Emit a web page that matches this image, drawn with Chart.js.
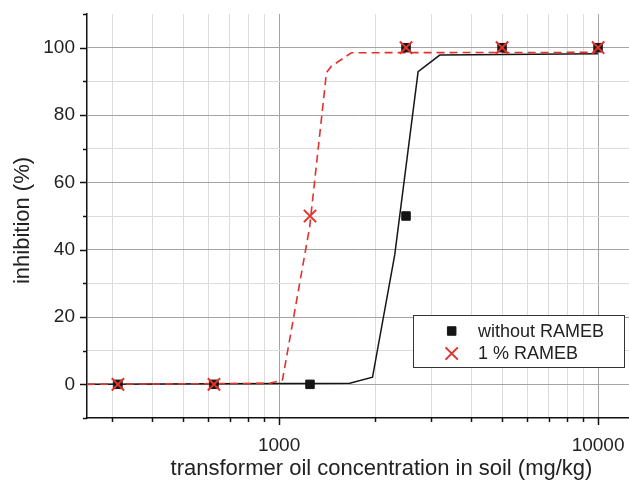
<!DOCTYPE html>
<html>
<head>
<meta charset="utf-8">
<script src="https://cdn.jsdelivr.net/npm/chart.js@4.4.1/dist/chart.umd.min.js"></script>
<style>
  body { margin: 0; background: #fff; }
  #wrap { width: 629px; height: 480px; }
</style>
</head>
<body>
<div id="wrap"><canvas id="inhibition"></canvas></div>
<script>
// measured inhibition (%) per concentration (mg/kg)
var concWithout = [312.5, 625, 1250, 2500, 2500, 5000, 10000];
var withoutRameb = [0, 0, 0, 50, 100, 100, 100];
var concWith = [312.5, 625, 1250, 2500, 5000, 10000];
var withRameb = [0, 0, 50, 100, 100, 100];

// fitted dose-response curves
var fitWithoutX = [250, 1666, 1963, 2305, 2728, 3190, 10000];
var fitWithoutY = [0, 0.3, 2.1, 38.5, 92.9, 97.8, 98.2];
var fitWithX = [250, 936, 1025, 1247, 1408, 1459, 1686, 10000];
var fitWithY = [0, 0.3, 1.3, 46.7, 92.6, 94.5, 98.5, 98.6];

// axis ticks
var xTicks = [300, 400, 500, 600, 700, 800, 900, 1000, 2000, 3000, 4000, 5000, 6000, 7000, 8000, 9000, 10000];
var xMajor = [1000, 10000];
var yMajor = [0, 20, 40, 60, 80, 100];

var labels = ['without RAMEB', '1 % RAMEB'];
var xTitle = 'transformer oil concentration in soil (mg/kg)';
var yTitle = 'inhibition (%)';

var FONT = "'Liberation Sans', Arial, sans-serif";
var RED = '#e2322a';

function pairs(xs, ys) {
	return xs.map(function (x, i) { return {x: x, y: ys[i]}; });
}

// tick marks, axis titles and the boxed legend
var decorations = {
	id: 'decorations',
	afterDraw: function (chart) {
		var ctx = chart.ctx;
		var area = chart.chartArea;
		var xs = chart.scales.x;
		var ys = chart.scales.y;
		ctx.save();
		ctx.strokeStyle = '#111';
		ctx.lineWidth = 1.5;
		ys.ticks.forEach(function (t) {
			var y = Math.round(ys.getPixelForValue(t.value)) + 0.5;
			var len = yMajor.indexOf(t.value) >= 0 ? 7 : 4;
			ctx.beginPath();
			ctx.moveTo(area.left - len, y);
			ctx.lineTo(area.left, y);
			ctx.stroke();
		});
		xs.ticks.forEach(function (t) {
			var x = Math.round(xs.getPixelForValue(t.value)) + 0.5;
			var len = xMajor.indexOf(t.value) >= 0 ? 7 : 4;
			ctx.beginPath();
			ctx.moveTo(x, area.bottom);
			ctx.lineTo(x, area.bottom + len);
			ctx.stroke();
		});

		// axis titles
		ctx.fillStyle = '#222';
		ctx.font = '22px ' + FONT;
		ctx.textAlign = 'center';
		ctx.textBaseline = 'alphabetic';
		ctx.fillText(xTitle, 381.5, 475);
		ctx.save();
		ctx.translate(29, 220.5);
		ctx.rotate(-Math.PI / 2);
		ctx.fillText(yTitle, 0, 0);
		ctx.restore();

		// legend
		var bx = 413.5, by = 315.5, bw = 211, bh = 52;
		ctx.fillStyle = '#fff';
		ctx.fillRect(bx, by, bw, bh);
		ctx.strokeStyle = '#333';
		ctx.lineWidth = 1;
		ctx.strokeRect(bx, by, bw, bh);
		var rows = [331, 353.5];
		chart.data.datasets.slice(0, 2).forEach(function (ds, i) {
			ctx.fillStyle = ds.backgroundColor;
			ctx.strokeStyle = ds.borderColor;
			ctx.lineWidth = ds.borderWidth;
			Chart.helpers.drawPoint(ctx, {
				pointStyle: ds.pointStyle,
				radius: ds.pointRadius,
				borderWidth: ds.borderWidth,
				rotation: 0,
			}, 451.7, rows[i]);
			ctx.fillStyle = '#222';
			ctx.font = '18px ' + FONT;
			ctx.textAlign = 'left';
			ctx.textBaseline = 'middle';
			ctx.fillText(ds.label, 478, rows[i] + 1);
		});
		ctx.restore();
	},
};

new Chart(document.getElementById('inhibition'), {
	type: 'scatter',
	data: {
		datasets: [{
			label: labels[0],
			data: pairs(concWithout, withoutRameb),
			pointStyle: 'rect',
			pointRadius: 6,
			borderWidth: 1,
			backgroundColor: '#151515',
			borderColor: '#151515',
			order: 1,
		}, {
			label: labels[1],
			data: pairs(concWith, withRameb),
			pointStyle: 'crossRot',
			pointRadius: 8.7,
			borderWidth: 2,
			backgroundColor: RED,
			borderColor: RED,
			order: 0,
		}, {
			label: 'fit without RAMEB',
			data: pairs(fitWithoutX, fitWithoutY),
			showLine: true,
			pointRadius: 0,
			borderWidth: 1.5,
			borderColor: '#151515',
			order: 3,
		}, {
			label: 'fit 1 % RAMEB',
			data: pairs(fitWithX, fitWithY),
			showLine: true,
			pointRadius: 0,
			borderWidth: 1.6,
			borderDash: [8, 5],
			borderColor: RED,
			order: 2,
		}],
	},
	options: {
		responsive: true,
		maintainAspectRatio: false,
		animation: false,
		layout: {
			autoPadding: false,
			padding: {top: 14, right: 0, left: 0, bottom: 0},
		},
		plugins: {
			legend: {display: false},
			tooltip: {enabled: false},
		},
		scales: {
			x: {
				type: 'logarithmic',
				min: 250,
				max: 12500,
				afterBuildTicks: function (scale) {
					scale.ticks = xTicks.map(function (v) { return {value: v}; });
				},
				afterFit: function (scale) {
					scale.height = 62;
					scale.paddingLeft = 0;
					scale.paddingRight = 0;
				},
				border: {color: '#111', width: 1.5},
				grid: {
					drawTicks: false,
					color: function (c) {
						return xMajor.indexOf(c.tick.value) >= 0 ? '#a3a3a3' : '#dcdcdc';
					},
				},
				ticks: {
					autoSkip: false,
					maxRotation: 0,
					padding: 0,
					color: '#222',
					font: {family: FONT, size: 19, lineHeight: '56px'},
					callback: function (v) {
						return xMajor.indexOf(v) >= 0 ? String(v) : '';
					},
				},
			},
			y: {
				min: -10,
				max: 110,
				afterFit: function (scale) {
					scale.width = 87;
					scale.paddingTop = 0;
					scale.paddingBottom = 0;
				},
				border: {color: '#111', width: 1.5},
				grid: {
					drawTicks: false,
					color: function (c) {
						var v = c.tick.value;
						if (v === -10 || v === 110) return 'rgba(0,0,0,0)';
						return yMajor.indexOf(v) >= 0 ? '#a3a3a3' : '#dcdcdc';
					},
				},
				ticks: {
					stepSize: 10,
					padding: 12,
					color: '#222',
					font: {family: FONT, size: 19},
					callback: function (v) {
						return yMajor.indexOf(v) >= 0 ? String(v) : '';
					},
				},
			},
		},
	},
	plugins: [decorations],
});
</script>
</body>
</html>
